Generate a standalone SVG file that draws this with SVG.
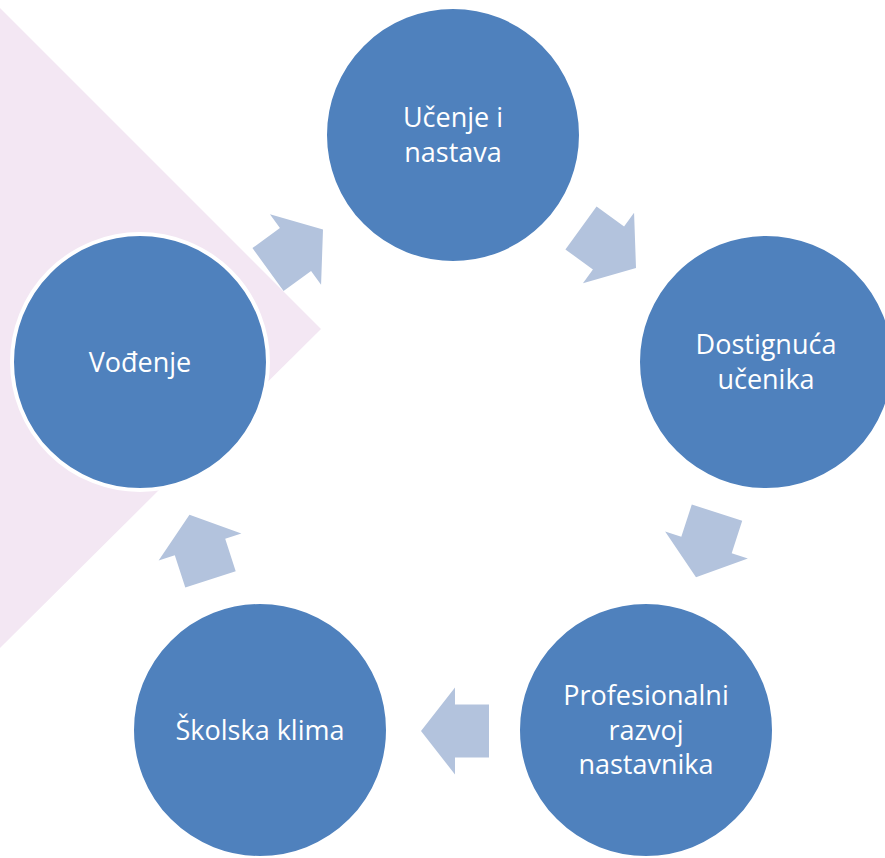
<svg xmlns="http://www.w3.org/2000/svg" width="885" height="858" viewBox="0 0 885 858">
<style>
.node circle{fill:#4F81BD;stroke:#FFFFFF;stroke-width:4}
.node text{fill:#FFFFFF;font-family:"Open Sans","Noto Sans","Liberation Sans",sans-serif;font-size:27px;text-anchor:middle}
.arrow{fill:#B3C3DD}
</style>
<defs>
<path id="arr" d="M-34,-26.5 H0 V-43.5 L34,0 L0,43.5 V26.5 H-34 Z"/>
</defs>
<rect width="885" height="858" fill="#FFFFFF"/>
<polygon points="0,8 321,329 0,648" fill="#F3E7F3"/>
<g id="connectors">
<use href="#arr" class="arrow" transform="translate(295.5,249.5) rotate(-36)"/>
<use href="#arr" class="arrow" transform="translate(608.5,248) rotate(36)"/>
<use href="#arr" class="arrow" transform="translate(706.5,545) rotate(108)"/>
<use href="#arr" class="arrow" transform="translate(455,731) rotate(180)"/>
<use href="#arr" class="arrow" transform="translate(200,547) rotate(-108)"/>
</g>
<g id="node-ucenje" class="node">
<circle cx="453" cy="135" r="128"/>
<text x="453" y="127.4">Učenje i</text>
<text x="453" y="161.9">nastava</text>
</g>
<g id="node-dostignuca" class="node">
<circle cx="766" cy="362" r="128"/>
<text x="766" y="354.4">Dostignuća</text>
<text x="766" y="388.9">učenika</text>
</g>
<g id="node-profesionalni" class="node">
<circle cx="646" cy="730" r="128"/>
<text x="646" y="705.2">Profesionalni</text>
<text x="646" y="739.7">razvoj</text>
<text x="646" y="774.2">nastavnika</text>
</g>
<g id="node-skolska" class="node">
<circle cx="260" cy="730" r="128"/>
<text x="260" y="739.7">Školska klima</text>
</g>
<g id="node-vodenje" class="node">
<circle cx="140" cy="362" r="128"/>
<text x="140" y="371.7">Vođenje</text>
</g>
</svg>
